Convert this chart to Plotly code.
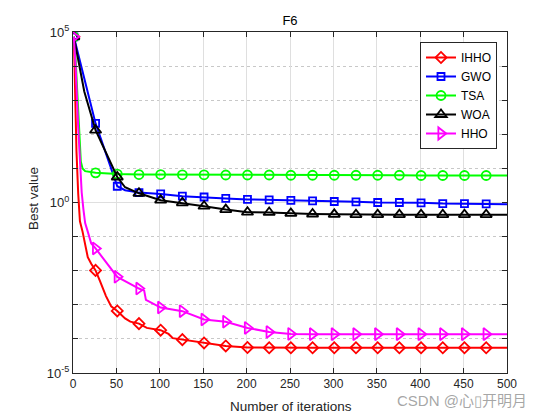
import plotly.graph_objects as go

# ---------------- data ----------------
ihho_iter = [1, 2, 3, 4, 6, 8, 11, 14, 17, 21, 26, 31, 38, 44, 51, 60, 66, 76, 85,
             101, 110, 115, 126, 151, 176, 201, 226, 251, 276, 301, 326, 351, 376,
             401, 426, 451, 476, 500]
ihho_val = [7.2e4, 4e3, 2e2, 3.2e1, 1.8, 0.28, 0.14, 0.056, 0.025, 0.016, 0.0102,
            5e-3, 1.8e-3, 9e-4, 6.6e-4, 4e-4, 3.2e-4, 2.8e-4, 2.1e-4,
            1.8e-4, 1.4e-4, 1.05e-4, 9.5e-5, 7.6e-5, 6.2e-5, 5.6e-5, 5.5e-5, 5.5e-5,
            5.5e-5, 5.5e-5, 5.5e-5, 5.5e-5, 5.5e-5, 5.5e-5, 5.5e-5, 5.5e-5, 5.5e-5, 5.5e-5]

gwo_iter = [1, 26, 51, 60, 76, 101, 126, 151, 176, 201, 226, 251, 276, 301, 326,
            351, 376, 401, 426, 451, 476, 500]
gwo_val = [7.2e4, 209, 3.0, 2.3, 1.95, 1.78, 1.53, 1.45, 1.32, 1.23, 1.2, 1.15, 1.12,
           1.07, 1.05, 1.0, 1.0, 0.98, 0.93, 0.93, 0.91, 0.89]

tsa_iter = [1, 3, 5, 7, 8, 9, 11, 14, 26, 51, 76, 101, 126, 151, 176, 201, 226, 251,
            276, 301, 326, 351, 376, 401, 426, 451, 476, 500]
tsa_val = [7.2e4, 1.6e4, 1.6e3, 130, 32, 16, 10, 8.3, 7.4, 6.8, 6.6, 6.6, 6.5, 6.5,
           6.4, 6.4, 6.4, 6.3, 6.3, 6.3, 6.3, 6.3, 6.3, 6.2, 6.2, 6.2, 6.2, 6.2]

woa_iter = [1, 13, 26, 51, 60, 76, 101, 126, 151, 176, 201, 226, 251, 276, 301, 326,
            351, 376, 401, 426, 451, 476, 500]
woa_val = [7.2e4, 1.8e3, 132, 5.6, 2.8, 1.86, 1.17, 0.98, 0.78, 0.62, 0.52, 0.51,
           0.48, 0.46, 0.45, 0.44, 0.44, 0.44, 0.44, 0.44, 0.44, 0.44, 0.44]

hho_iter = [1, 3, 6, 8, 10, 12, 14, 17, 21, 26, 46, 51, 76, 82, 84, 101, 126, 151, 176,
            201, 226, 251, 276, 301, 326, 351, 376, 401, 426, 451, 476, 500]
hho_val = [7.2e4, 1e4, 160, 16, 2.0, 0.63, 0.25, 0.14, 0.063, 0.045, 0.0102, 6.6e-3,
           3.0e-3, 2.6e-3, 1.4e-3, 8.3e-4, 6.5e-4, 3.7e-4, 3.2e-4, 2.1e-4, 1.6e-4, 1.4e-4,
           1.38e-4, 1.38e-4, 1.38e-4, 1.38e-4, 1.38e-4, 1.38e-4, 1.38e-4, 1.38e-4,
           1.38e-4, 1.38e-4]

names = ["IHHO", "GWO", "TSA", "WOA", "HHO"]
x_ticks = list(range(0, 501, 50))
y_ticks = [1e-5, 1, 1e5]
y_ticktext = ["10<sup>-5</sup>", "10<sup>0</sup>", "10<sup>5</sup>"]
y_minor = [1e-4, 1e-3, 1e-2, 1e-1, 10, 100, 1e3, 1e4]
watermark = "CSDN @心▯开明月"

# ---------------- styling ----------------
colors = ["#FF0000", "#0000FF", "#00FF00", "#000000", "#FF00FF"]
symbols = ["diamond-open", "square-open", "circle-open", "triangle-up-open", "triangle-right-open"]
sizes = [8.5, 7, 9, 10, 10.5]
series = [(ihho_iter, ihho_val), (gwo_iter, gwo_val), (tsa_iter, tsa_val),
          (woa_iter, woa_val), (hho_iter, hho_val)]

fig = go.Figure()
for (it, val), name, c, sym, sz in zip(series, names, colors, symbols, sizes):
    fig.add_trace(go.Scatter(x=it, y=val, mode="lines", line=dict(color=c, width=2),
                             showlegend=False, hoverinfo="skip"))
    mk = [(i, v) for i, v in zip(it, val) if (i - 1) % 25 == 0 and i <= 476]
    fig.add_trace(go.Scatter(x=[p[0] for p in mk], y=[p[1] for p in mk], mode="markers",
                             marker=dict(symbol=sym, size=sz, color=c, line=dict(color=c, width=1.8)),
                             showlegend=False))

for name, c, sym, sz in zip(names, colors, symbols, sizes):
    fig.add_trace(go.Scatter(x=[None], y=[None], mode="lines+markers", name=name,
                             line=dict(color=c, width=2),
                             marker=dict(symbol=sym, size=sz, color=c, line=dict(color=c, width=1.8))))

# page has an 8px body margin: the figure is drawn at (8, 8) in the window
OFF = 8
W, H = 560 - OFF, 420 - OFF
PL, PR, PT, PB = 73, 507, 32, 373          # plot box in window pixels
L, R, T, B = PL - OFF, W - (PR - OFF), PT - OFF, H - (PB - OFF)
pw, ph = PR - PL, PB - PT

def px(xp):
    return (xp - PL) / pw

def py(yp):
    return (PB - yp) / ph

axis_col = "#262626"
fam = "Liberation Sans, Arial, Helvetica, sans-serif"
fig.update_layout(
    width=W, height=H,
    margin=dict(l=L, r=R, t=T, b=B, autoexpand=False),
    paper_bgcolor="white", plot_bgcolor="white",
    font=dict(family=fam, size=12, color=axis_col),
    title=dict(text="F6", x=0.5, xref="paper", xanchor="center",
               y=1 - (20.5 - OFF) / H, yanchor="middle", font=dict(family=fam, size=13, color="black")),
    legend=dict(x=px(497), y=py(42), xanchor="right", yanchor="top", bgcolor="white",
                bordercolor=axis_col, borderwidth=1,
                font=dict(family=fam, size=12, color="black")),
    annotations=[
        dict(text="Number of iterations", x=px(291), y=py(407), xref="paper", yref="paper",
             xanchor="center", yanchor="middle", showarrow=False,
             font=dict(family=fam, size=13.5, color=axis_col)),
        dict(text="Best value", x=px(33), y=py(199), xref="paper", yref="paper",
             xanchor="center", yanchor="middle", showarrow=False, textangle=-90,
             font=dict(family=fam, size=13.5, color=axis_col)),
        dict(text=watermark, x=px(395), y=py(400), xref="paper", yref="paper",
             xanchor="left", yanchor="middle", showarrow=False,
             font=dict(size=15, color="rgba(150,150,150,0.85)",
                       family="Liberation Sans, Noto Sans CJK SC, sans-serif")),
    ],
)

fig.update_xaxes(range=[0, 500], tickmode="array", tickvals=x_ticks, ticks="inside", ticklen=5,
                 tickcolor=axis_col, showline=True, linecolor=axis_col, linewidth=1,
                 mirror="ticks", showgrid=True, gridcolor="#dfdfdf", gridwidth=1,
                 zeroline=False, automargin=False, tickfont=dict(family=fam, size=12, color=axis_col))

fig.update_yaxes(type="log", range=[-5, 5], tickmode="array", tickvals=y_ticks,
                 ticktext=y_ticktext, ticks="inside", ticklen=5, tickcolor=axis_col,
                 showline=True, linecolor=axis_col, linewidth=1, mirror="ticks",
                 showgrid=True, gridcolor="#dfdfdf", gridwidth=1, zeroline=False,
                 automargin=False, tickfont=dict(family=fam, size=13, color=axis_col),
                 minor=dict(tickmode="array", tickvals=y_minor, ticks="inside", ticklen=5,
                            tickcolor=axis_col, showgrid=True, gridcolor="#c8c8c8",
                            griddash="dot", gridwidth=1))

fig.write_html("out.html")
